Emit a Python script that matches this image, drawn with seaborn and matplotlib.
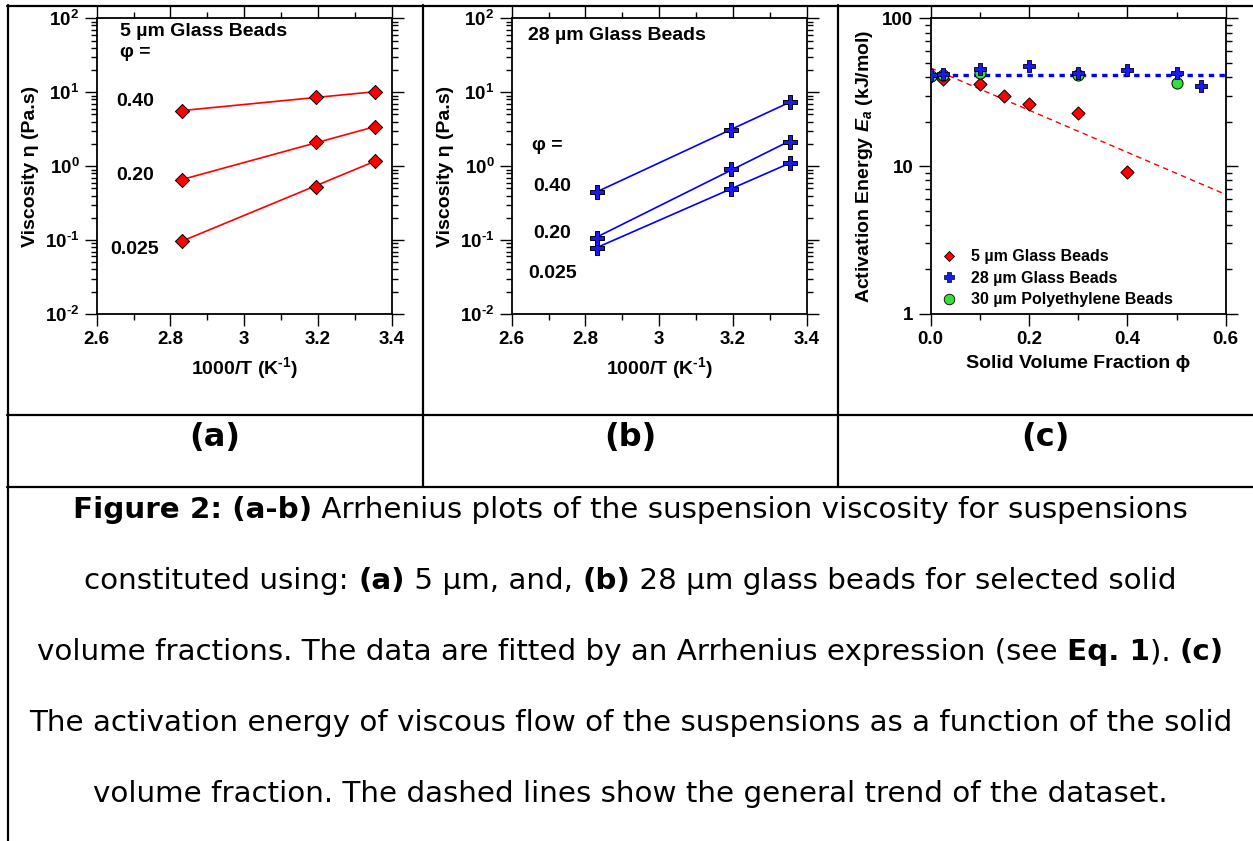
import numpy as np
import pandas as pd
import matplotlib
matplotlib.use("Agg")
import matplotlib.pyplot as plt
import seaborn as sns
from matplotlib.lines import Line2D
from matplotlib.ticker import LogLocator, NullFormatter, FixedLocator

# ---------------- data ----------------
inv_T = [2.83, 3.195, 3.355]                      # 1000/T (1/K)
phi_labels = ["0.025", "0.20", "0.40"]

eta_5um_0025 = [0.097, 0.53, 1.19]                 # Pa.s
eta_5um_020 = [0.65, 2.14, 3.35]
eta_5um_040 = [5.6, 8.7, 10.0]

eta_28um_0025 = [0.079, 0.49, 1.11]
eta_28um_020 = [0.108, 0.92, 2.14]
eta_28um_040 = [0.45, 3.08, 7.46]

phi_5um = [0.0, 0.025, 0.10, 0.15, 0.20, 0.30, 0.40]
ea_5um = [40.5, 38.9, 35.9, 29.8, 26.3, 23.0, 9.2]          # kJ/mol
phi_28um = [0.0, 0.025, 0.10, 0.20, 0.30, 0.40, 0.50, 0.55]
ea_28um = [41.3, 41.7, 45.2, 47.8, 42.9, 44.7, 42.5, 35.0]
phi_pe = [0.0, 0.025, 0.10, 0.30, 0.50]
ea_pe = [40.8, 41.4, 42.9, 41.4, 36.3]
ea_plateau = 41.3                                    # trend level for 28 um beads

legend_labels = ["5 µm Glass Beads", "28 µm Glass Beads", "30 µm Polyethylene Beads"]

caption_lines = [
    [("Figure 2: (a-b)", True), (" Arrhenius plots of the suspension viscosity for suspensions", False)],
    [("constituted using: ", False), ("(a)", True), (" 5 µm, and, ", False), ("(b)", True),
     (" 28 µm glass beads for selected solid", False)],
    [("volume fractions. The data are fitted by an Arrhenius expression (see ", False), ("Eq. 1", True),
     ("). ", False), ("(c)", True)],
    [("The activation energy of viscous flow of the suspensions as a function of the solid", False)],
    [("volume fraction. The dashed lines show the general trend of the dataset.", False)],
]
panel_tags = ["(a)", "(b)", "(c)"]

# ---------------- style ----------------
sns.set_theme(style="ticks")
plt.rcParams.update({
    "font.family": ["Liberation Sans", "DejaVu Sans"],
    "font.weight": "bold",
    "axes.labelweight": "bold",
    "mathtext.fontset": "custom",
    "mathtext.rm": "Liberation Sans:bold",
    "mathtext.bf": "Liberation Sans:bold",
    "mathtext.it": "Liberation Sans:italic:bold",
    "mathtext.default": "bf",
    "axes.linewidth": 1.3,
    "axes.edgecolor": "black",
    "axes.facecolor": "white",
    "xtick.color": "black",
    "ytick.color": "black",
    "axes.labelcolor": "black",
    "text.color": "black",
})

W, H = 1253, 841
fig = plt.figure(figsize=(W / 100, H / 100), dpi=100)
fig.patch.set_facecolor("white")


def px_rect(left, right, top, bottom):
    return [left / W, 1 - bottom / H, (right - left) / W, (bottom - top) / H]


TICK_FS = 13.5
LABEL_FS = 14

RED = "#ff0000"
BLUE = "#1a1af0"
LINE_BLUE = "#0000ff"
GREEN = "#33e033"


def style_axes(ax):
    ax.tick_params(which="both", direction="out", top=True, right=True,
                   labelsize=TICK_FS, width=1.0, color="black")
    ax.tick_params(which="major", length=8.5, pad=4)
    ax.tick_params(which="minor", length=4.3)
    for s in ax.spines.values():
        s.set_visible(True)
        s.set_linewidth(1.3)
        s.set_color("black")
    for lab in ax.get_xticklabels() + ax.get_yticklabels():
        lab.set_fontweight("bold")


def arrhenius_panel(ax, series, marker, ms, color, line_color):
    rows = []
    for lab, vals in zip(phi_labels, series):
        for x, v in zip(inv_T, vals):
            rows.append({"inv_T": x, "eta": v, "phi": lab})
    df = pd.DataFrame(rows)
    for lab in phi_labels:
        sub = df[df["phi"] == lab]
        k, b = np.polyfit(sub["inv_T"], np.log10(sub["eta"]), 1)
        fit = pd.DataFrame({"inv_T": sub["inv_T"], "eta": 10 ** (k * sub["inv_T"] + b)})
        sns.lineplot(data=fit, x="inv_T", y="eta", ax=ax, color=line_color, lw=1.2, zorder=2)
    sns.scatterplot(data=df, x="inv_T", y="eta", ax=ax, marker=marker, s=ms ** 2,
                    color=color, edgecolor="black", linewidth=0.7, zorder=3, legend=False)
    ax.set_yscale("log")
    ax.set_xlim(2.6, 3.4)
    ax.set_ylim(1e-2, 1e2)
    ax.set_xticks([2.6, 2.8, 3.0, 3.2, 3.4], ["2.6", "2.8", "3", "3.2", "3.4"])
    ax.xaxis.set_minor_locator(FixedLocator([2.7, 2.9, 3.1, 3.3]))
    ax.set_yticks([1e-2, 1e-1, 1e0, 1e1, 1e2],
                  [r"$10^{\text{-2}}$", r"$10^{\text{-1}}$", r"$10^{0}$", r"$10^{1}$", r"$10^{2}$"])
    ax.yaxis.set_minor_locator(LogLocator(base=10, subs=np.arange(2, 10)))
    ax.yaxis.set_minor_formatter(NullFormatter())
    ax.set_xlabel(r"1000/T (K$^{\text{-1}}$)", fontsize=LABEL_FS, fontweight="bold", labelpad=5)
    ax.set_ylabel("Viscosity η (Pa.s)", fontsize=LABEL_FS, fontweight="bold", labelpad=4)
    style_axes(ax)


# ---------------- panel (a) ----------------
ax_a = fig.add_axes(px_rect(96.7, 391.7, 18.3, 314))
arrhenius_panel(ax_a, [eta_5um_0025, eta_5um_020, eta_5um_040], "D", 7.2, RED, RED)
ax_a.text(0.079, 0.955, "5 µm Glass Beads", transform=ax_a.transAxes, fontsize=LABEL_FS,
          fontweight="bold", ha="left", va="center")
ax_a.text(0.079, 0.883, "φ =", transform=ax_a.transAxes, fontsize=LABEL_FS,
          fontweight="bold", ha="left", va="center")
for lab, yf in zip(phi_labels, [0.2188, 0.4667, 0.718]):
    ax_a.text(0.130, yf, lab, transform=ax_a.transAxes, fontsize=LABEL_FS,
              fontweight="bold", ha="center", va="center")

# ---------------- panel (b) ----------------
ax_b = fig.add_axes(px_rect(511.7, 806.7, 18.3, 314))
arrhenius_panel(ax_b, [eta_28um_0025, eta_28um_020, eta_28um_040], "P", 10.3, BLUE, LINE_BLUE)
ax_b.text(0.056, 0.9435, "28 µm Glass Beads", transform=ax_b.transAxes, fontsize=LABEL_FS,
          fontweight="bold", ha="left", va="center")
ax_b.text(0.069, 0.5715, "φ =", transform=ax_b.transAxes, fontsize=LABEL_FS,
          fontweight="bold", ha="left", va="center")
for lab, yf in zip(phi_labels, [0.1376, 0.273, 0.4305]):
    ax_b.text(0.138, yf, lab, transform=ax_b.transAxes, fontsize=LABEL_FS,
              fontweight="bold", ha="center", va="center")

# ---------------- panel (c) ----------------
ax_c = fig.add_axes(px_rect(930.7, 1225.7, 18.3, 314))
phi_line = np.array([0.0, 0.6])
k5, b5 = np.polyfit(phi_5um, np.log(ea_5um), 1)
trend5 = pd.DataFrame({"phi": np.linspace(0, 0.6, 50)})
trend5["ea"] = np.exp(k5 * trend5["phi"] + b5)
sns.lineplot(data=trend5, x="phi", y="ea", ax=ax_c, color=RED, lw=1.0, zorder=2)
ax_c.lines[-1].set_dashes([4, 3])
trend28 = pd.DataFrame({"phi": phi_line, "ea": [ea_plateau, ea_plateau]})
sns.lineplot(data=trend28, x="phi", y="ea", ax=ax_c, color=LINE_BLUE, lw=2.4, zorder=2)
ax_c.lines[-1].set_dashes([1.6, 1.6])

df5 = pd.DataFrame({"phi": phi_5um, "ea": ea_5um})
df28 = pd.DataFrame({"phi": phi_28um, "ea": ea_28um})
dfpe = pd.DataFrame({"phi": phi_pe, "ea": ea_pe})
sns.scatterplot(data=df5, x="phi", y="ea", ax=ax_c, marker="D", s=6.7 ** 2, color=RED,
                edgecolor="black", linewidth=0.7, zorder=3, legend=False)
sns.scatterplot(data=dfpe, x="phi", y="ea", ax=ax_c, marker="o", s=8.0 ** 2, color=GREEN,
                edgecolor="black", linewidth=0.7, zorder=4, legend=False)
sns.scatterplot(data=df28, x="phi", y="ea", ax=ax_c, marker="P", s=8.3 ** 2, color=BLUE,
                edgecolor="black", linewidth=0.6, zorder=5, legend=False)

ax_c.set_yscale("log")
ax_c.set_xlim(0, 0.6)
ax_c.set_ylim(1, 100)
ax_c.set_xticks([0, 0.2, 0.4, 0.6], ["0.0", "0.2", "0.4", "0.6"])
ax_c.xaxis.set_minor_locator(FixedLocator([0.1, 0.3, 0.5]))
ax_c.set_yticks([1, 10, 100], ["1", "10", "100"])
ax_c.yaxis.set_minor_locator(LogLocator(base=10, subs=np.arange(2, 10)))
ax_c.yaxis.set_minor_formatter(NullFormatter())
ax_c.set_xlabel("Solid Volume Fraction ϕ", fontsize=LABEL_FS, fontweight="bold", labelpad=5)
ax_c.set_ylabel(r"Activation Energy $\mathit{E}_{\mathit{a}}$ (kJ/mol)", fontsize=LABEL_FS,
                fontweight="bold", labelpad=5)
style_axes(ax_c)

handles = [
    Line2D([], [], ls="none", marker="D", ms=5.2, mfc=RED, mec="black", mew=0.6),
    Line2D([], [], ls="none", marker="P", ms=7.8, mfc=BLUE, mec="black", mew=0.5),
    Line2D([], [], ls="none", marker="o", ms=7.6, mfc=GREEN, mec="black", mew=0.6),
]
ax_c.legend(handles, legend_labels, loc="lower left", bbox_to_anchor=(-0.004, -0.015),
            frameon=False, prop={"weight": "bold", "size": 11.5},
            handlelength=1.0, handletextpad=0.9, labelspacing=0.4, borderpad=0.2)

# ---------------- table frame ----------------
LW = 1.6


def hline(y, x0, x1):
    fig.add_artist(Line2D([x0 / W, x1 / W], [1 - y / H, 1 - y / H], color="black", lw=LW,
                          transform=fig.transFigure))


def vline(x, y0, y1):
    fig.add_artist(Line2D([x / W, x / W], [1 - y0 / H, 1 - y1 / H], color="black", lw=LW,
                          transform=fig.transFigure))


hline(5.5, 7, W)
hline(414.5, 7, W)
hline(487, 7, W)
vline(7.5, 5, H)
vline(423, 5, 487)
vline(838, 5, 487)

for tag, cx in zip(panel_tags, [215, 630.5, 1045.5]):
    fig.text(cx / W, 1 - 437.5 / H, tag, fontsize=23, fontweight="bold",
             family="DejaVu Sans", ha="center", va="center")

# ---------------- caption ----------------
CAP_FS = 21.2
renderer = fig.canvas.get_renderer()


def seg_width(text, bold):
    weight = "bold" if bold else "normal"
    t1 = fig.text(0, 0, "|" + text + "|", fontsize=CAP_FS, family="DejaVu Sans", fontweight=weight)
    t2 = fig.text(0, 0, "||", fontsize=CAP_FS, family="DejaVu Sans", fontweight=weight)
    w = t1.get_window_extent(renderer).width - t2.get_window_extent(renderer).width
    t1.remove()
    t2.remove()
    return w


for i, segs in enumerate(caption_lines):
    base_y = 518.3 + i * 71
    widths = [seg_width(t, b) for t, b in segs]
    x = 630.5 - sum(widths) / 2
    for (t, b), w in zip(segs, widths):
        fig.text(x / W, 1 - base_y / H, t, fontsize=CAP_FS, family="DejaVu Sans",
                 fontweight="bold" if b else "normal", ha="left", va="baseline")
        x += w

fig.savefig("out.png", dpi=100, facecolor="white")
